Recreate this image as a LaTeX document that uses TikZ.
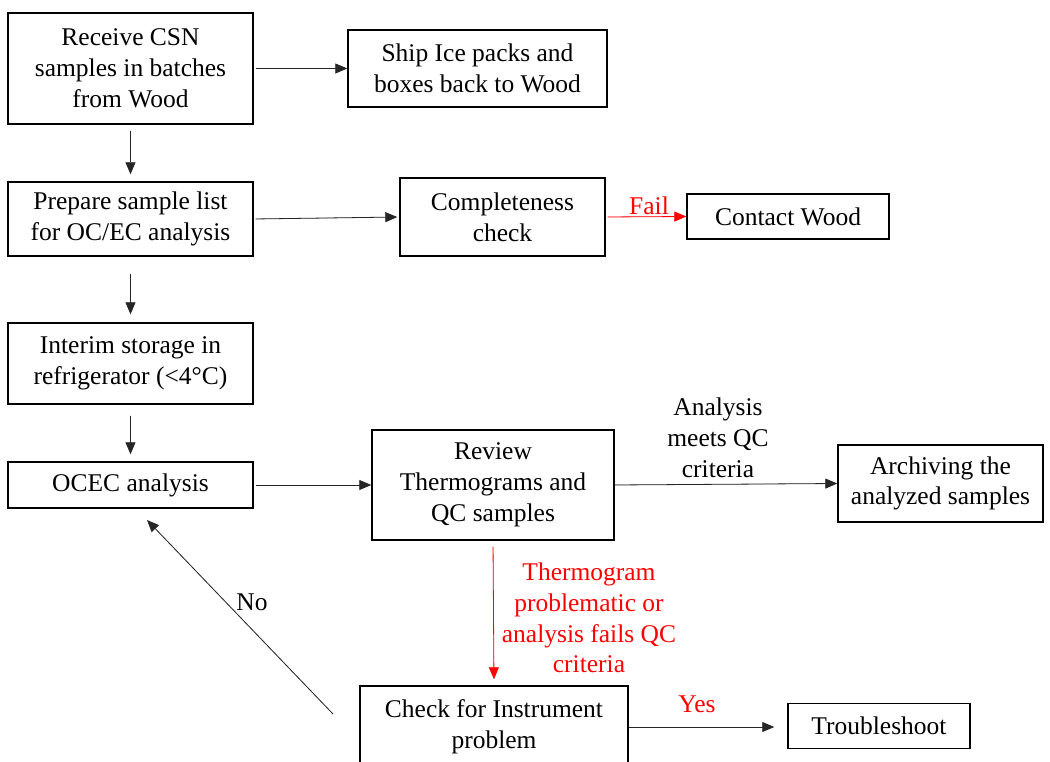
\documentclass[tikz,border=0pt]{standalone}
\usepackage{fontspec}
\setmainfont{Liberation Serif}
\usetikzlibrary{arrows.meta}
\begin{document}
\begin{tikzpicture}[x=1pt,y=-1pt,
  txt/.style={font=\fontsize{25.5}{30.8}\selectfont,align=center},
  box/.style={txt,draw,line width=1.4pt,inner sep=0pt},
  arr/.style={-{Triangle[length=12pt,width=10pt]},line width=0.8pt,draw=black!85,fill=black},
  redarr/.style={arr,draw=red,fill=red},
  redtxt/.style={txt,text=red}]
\useasboundingbox (0,0) rectangle (1050,762);
\clip (0,0) rectangle (1050,762);
\fill[white] (0,0) rectangle (1050,762);
% nodes
\node[box,minimum width=245,minimum height=111] (A) at (130.5,68.5) {Receive CSN\\samples in batches\\from Wood};
\node[box,minimum width=259,minimum height=77] (B) at (477.5,68.5) {Ship Ice packs and\\boxes back to Wood};
\node[box,minimum width=245,minimum height=74] (C) at (130.5,219) {Prepare sample list\\for OC/EC analysis};
\node[box,minimum width=205,minimum height=78] (D) at (502.5,217) {Completeness\\check};
\node[box,minimum width=202,minimum height=45] (E) at (788,216.5) {Contact Wood};
\node[box,minimum width=245,minimum height=81] (F) at (130.5,363.5) {Interim storage in\\refrigerator (<4°C)};
\node[box,minimum width=245,minimum height=46] (G) at (130.5,485) {OCEC analysis};
\node[box,minimum width=242,minimum height=110] (H) at (493,485) {Review\\Thermograms and\\QC samples};
\node[box,minimum width=205,minimum height=77] (I) at (940.5,483.5) {Archiving the\\analyzed samples};
\node[box,minimum width=268,minimum height=82] (J) at (494,727) {Check for Instrument\\problem};
\node[box,minimum width=182,minimum height=45] (K) at (879,726) {Troubleshoot};
% labels
\node[redtxt] (lfail) at (649,206) {Fail};
\node[txt] (lqc) at (718,438) {Analysis\\meets QC\\criteria};
\node[redtxt] (lthermo) at (589,618) {Thermogram\\problematic or\\analysis fails QC\\criteria};
\node[redtxt] (lyes) at (697,704) {Yes};
\node[txt] (lno) at (252,602) {No};
% connectors
\draw[arr,shorten <=2pt] (A.east) -- (B.west);
\draw[arr,shorten <=6pt,shorten >=7pt] (A.south) -- (C.north);
\draw[arr,shorten <=2pt,shorten >=2pt] (C.east) -- (D.west);
\draw[redarr,shorten <=2pt] (D.east) -- (E.west);
\draw[arr,shorten <=17pt,shorten >=8pt] (C.south) -- (F.north);
\draw[arr,shorten <=11pt,shorten >=7pt] (F.south) -- (G.north);
\draw[arr,shorten <=2pt] (G.east) -- (H.west);
\draw[arr] (H.east) -- (I.west);
\draw[redarr,shorten <=6pt,shorten >=6pt] (H.south) -- (J.north);
\draw[arr,shorten >=13pt] (J.east) -- (J.east -| K.west);
\coordinate (n1) at (333,714);
\coordinate (n2) at (147,520);
\draw[arr] (n1) -- (n2);
\end{tikzpicture}
\end{document}
